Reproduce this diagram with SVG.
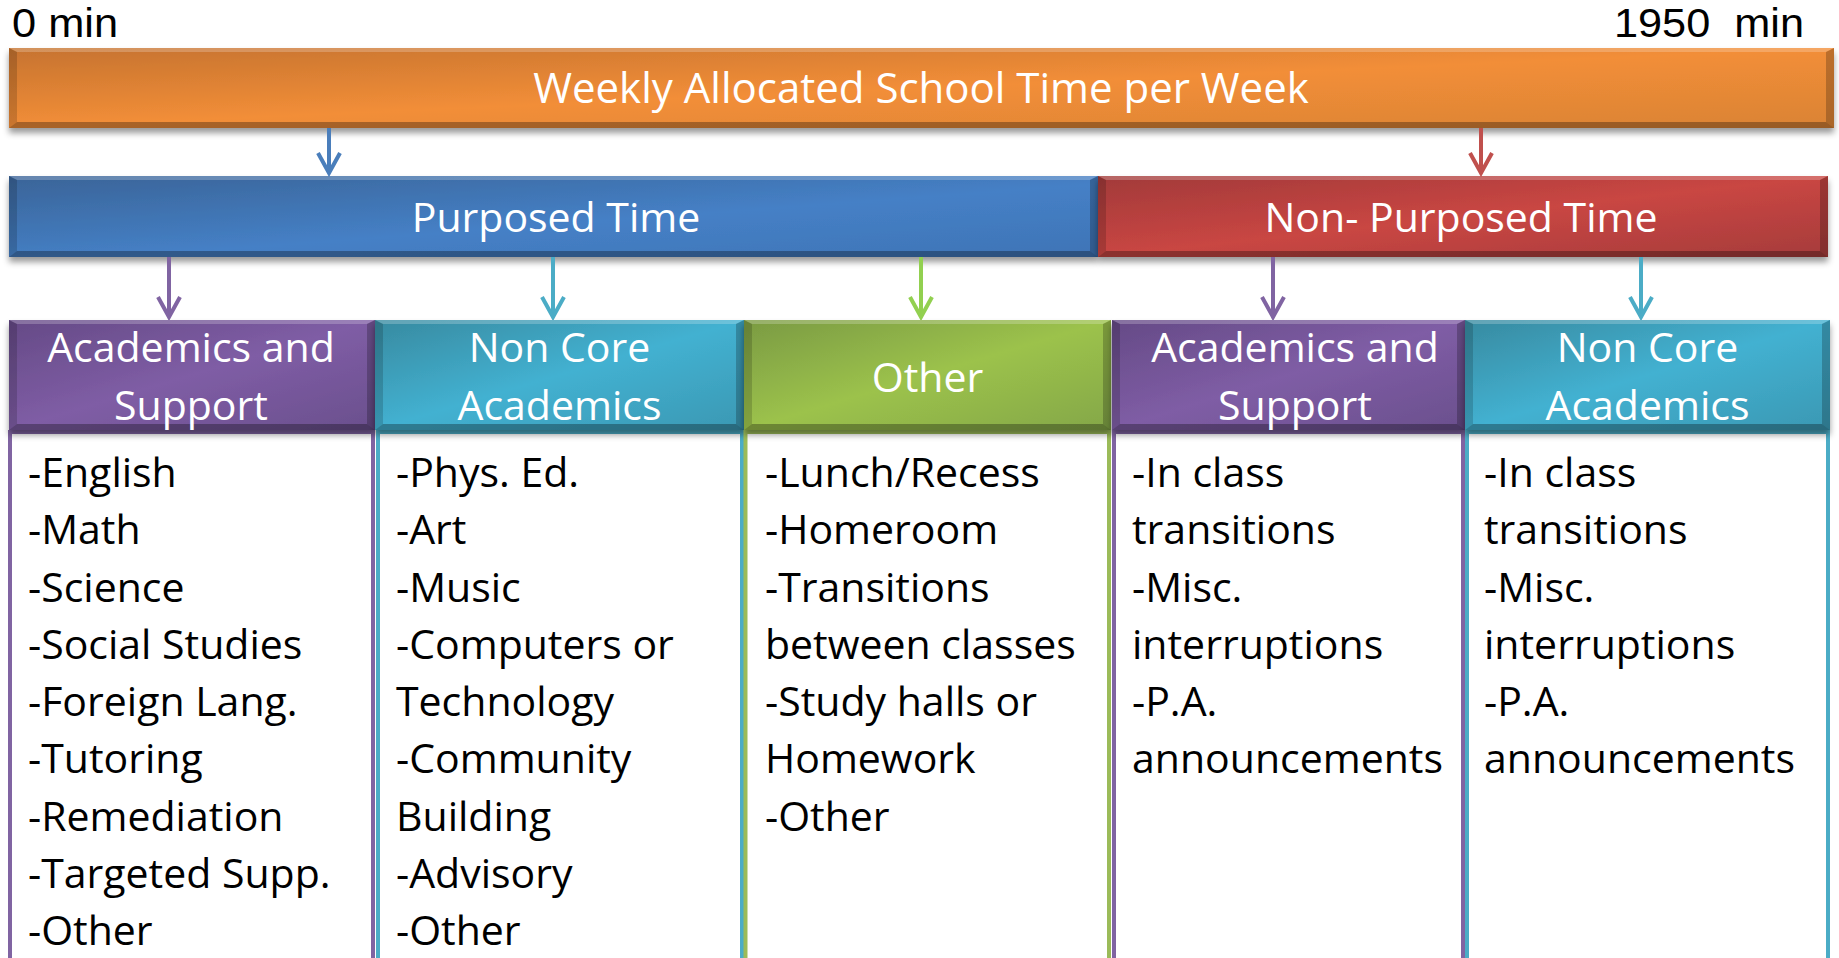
<svg xmlns="http://www.w3.org/2000/svg" width="1839" height="958" viewBox="0 0 1839 958">
<defs>
<style>
text{font-family:"Open Sans","Noto Sans","Liberation Sans",sans-serif;font-size:41px;}
.lbl{fill:#000;white-space:pre;font-family:"Liberation Sans",Arial,sans-serif;font-size:40px;}
.wt{fill:#fff;text-anchor:middle;}
.bd{fill:#000;}
.bt{fill:#fff;fill-opacity:.22;}
.bl{fill:#000;fill-opacity:.16;}
.br{fill:#000;fill-opacity:.22;}
.bb{fill:#000;fill-opacity:.3;}
.box{fill:#fff;stroke-width:4;}
.arr{fill:none;stroke-width:4;}
</style>
<linearGradient id="gO" x1="0" y1="0" x2="1" y2="1"><stop offset="0" stop-color="#C6732F"/><stop offset="0.5" stop-color="#F28E38"/><stop offset="1" stop-color="#DA8334"/></linearGradient>
<linearGradient id="gB" x1="0" y1="0" x2="1" y2="1"><stop offset="0" stop-color="#3A6498"/><stop offset="0.55" stop-color="#4580C6"/><stop offset="1" stop-color="#3F74B6"/></linearGradient>
<linearGradient id="gR" x1="0" y1="0" x2="1" y2="1"><stop offset="0" stop-color="#A23A39"/><stop offset="0.5" stop-color="#C94643"/><stop offset="1" stop-color="#A63C3B"/></linearGradient>
<linearGradient id="gP" x1="0" y1="0" x2="1" y2="1"><stop offset="0" stop-color="#654A86"/><stop offset="0.5" stop-color="#7F5DA5"/><stop offset="1" stop-color="#6A4F8D"/></linearGradient>
<linearGradient id="gT" x1="0" y1="0" x2="1" y2="1"><stop offset="0" stop-color="#378AA0"/><stop offset="0.5" stop-color="#43B1D1"/><stop offset="1" stop-color="#3A98B3"/></linearGradient>
<linearGradient id="gG" x1="0" y1="0" x2="1" y2="1"><stop offset="0" stop-color="#7A9A42"/><stop offset="0.5" stop-color="#9CC24C"/><stop offset="1" stop-color="#84A747"/></linearGradient>
<filter id="sh" x="-5%" y="-20%" width="110%" height="150%"><feDropShadow dx="0" dy="5" stdDeviation="3" flood-color="#000" flood-opacity="0.4"/></filter>
<marker id="mB" markerUnits="userSpaceOnUse" viewBox="-26 -15 30 30" refX="0" refY="0" markerWidth="30" markerHeight="30" orient="auto"><path d="M-20,-11 L0,0 L-20,11" fill="none" stroke="#4A7EBB" stroke-width="4"/></marker>
<marker id="mR" markerUnits="userSpaceOnUse" viewBox="-26 -15 30 30" refX="0" refY="0" markerWidth="30" markerHeight="30" orient="auto"><path d="M-20,-11 L0,0 L-20,11" fill="none" stroke="#C0504D" stroke-width="4"/></marker>
<marker id="mP" markerUnits="userSpaceOnUse" viewBox="-26 -15 30 30" refX="0" refY="0" markerWidth="30" markerHeight="30" orient="auto"><path d="M-20,-11 L0,0 L-20,11" fill="none" stroke="#8064A2" stroke-width="4"/></marker>
<marker id="mT" markerUnits="userSpaceOnUse" viewBox="-26 -15 30 30" refX="0" refY="0" markerWidth="30" markerHeight="30" orient="auto"><path d="M-20,-11 L0,0 L-20,11" fill="none" stroke="#4BACC6" stroke-width="4"/></marker>
<marker id="mG" markerUnits="userSpaceOnUse" viewBox="-26 -15 30 30" refX="0" refY="0" markerWidth="30" markerHeight="30" orient="auto"><path d="M-20,-11 L0,0 L-20,11" fill="none" stroke="#92D050" stroke-width="4"/></marker>
</defs>
<rect width="1839" height="958" fill="#fff"/>

<g id="scale-labels">
<text class="lbl" x="12" y="37" textLength="106" lengthAdjust="spacingAndGlyphs">0 min</text>
<text class="lbl" x="1614" y="37" textLength="190" lengthAdjust="spacingAndGlyphs">1950  min</text>
</g>

<g id="weekly">
<rect x="9" y="48" width="1825" height="80" fill="url(#gO)" filter="url(#sh)"/>
<polygon class="bt" points="9,48 1834,48 1826,52 17,52"/>
<polygon class="bl" points="9,48 17,52 17,122 9,128"/>
<polygon class="br" points="1834,48 1834,128 1826,122 1826,52"/>
<polygon class="bb" points="9,128 17,122 1826,122 1834,128"/>
<text class="wt" x="921" y="103" style="font-size:42px">Weekly Allocated School Time per Week</text>
</g>

<g id="purposed">
<rect x="9" y="176" width="1089" height="81" fill="url(#gB)" filter="url(#sh)"/>
<polygon class="bt" points="9,176 1098,176 1090,180 17,180"/>
<polygon class="bl" points="9,176 17,180 17,251 9,257"/>
<polygon class="br" points="1098,176 1098,257 1090,251 1090,180"/>
<polygon class="bb" points="9,257 17,251 1090,251 1098,257"/>
<text class="wt" x="556" y="232">Purposed Time</text>
</g>

<g id="non-purposed">
<rect x="1098" y="176" width="730" height="81" fill="url(#gR)" filter="url(#sh)"/>
<polygon class="bt" points="1098,176 1828,176 1820,180 1106,180"/>
<polygon class="bl" points="1098,176 1106,180 1106,251 1098,257"/>
<polygon class="br" points="1828,176 1828,257 1820,251 1820,180"/>
<polygon class="bb" points="1098,257 1106,251 1820,251 1828,257"/>
<text class="wt" x="1461" y="232">Non- Purposed Time</text>
</g>

<g id="connectors">
<line class="arr" x1="329" y1="128" x2="329" y2="173" stroke="#4A7EBB" marker-end="url(#mB)"/>
<line class="arr" x1="1481" y1="128" x2="1481" y2="173" stroke="#C0504D" marker-end="url(#mR)"/>
<line class="arr" x1="169" y1="257" x2="169" y2="317" stroke="#8064A2" marker-end="url(#mP)"/>
<line class="arr" x1="553" y1="257" x2="553" y2="317" stroke="#4BACC6" marker-end="url(#mT)"/>
<line class="arr" x1="921" y1="257" x2="921" y2="317" stroke="#92D050" marker-end="url(#mG)"/>
<line class="arr" x1="1273" y1="257" x2="1273" y2="317" stroke="#8064A2" marker-end="url(#mP)"/>
<line class="arr" x1="1641" y1="257" x2="1641" y2="317" stroke="#4BACC6" marker-end="url(#mT)"/>
</g>

<g id="col-academics-purposed">
<rect class="box" x="10" y="432" width="363" height="560" stroke="#8064A2"/>
<rect x="9" y="320" width="366" height="110" fill="url(#gP)" filter="url(#sh)"/>
<polygon class="bt" points="9,320 375,320 367,324 17,324"/>
<polygon class="bl" points="9,320 17,324 17,424 9,430"/>
<polygon class="br" points="375,320 375,430 367,424 367,324"/>
<polygon class="bb" points="9,430 17,424 367,424 375,430"/>
<text class="wt" x="191" y="362">Academics and</text>
<text class="wt" x="191" y="420">Support</text>
<text class="bd" x="28" y="487">-English</text>
<text class="bd" x="28" y="544">-Math</text>
<text class="bd" x="28" y="601.5">-Science</text>
<text class="bd" x="28" y="659">-Social Studies</text>
<text class="bd" x="28" y="716">-Foreign Lang.</text>
<text class="bd" x="28" y="773">-Tutoring</text>
<text class="bd" x="28" y="830.5">-Remediation</text>
<text class="bd" x="28" y="888">-Targeted Supp.</text>
<text class="bd" x="28" y="945">-Other</text>
</g>

<g id="col-noncore-purposed">
<rect class="box" x="378" y="432" width="364" height="560" stroke="#4BACC6"/>
<rect x="375" y="320" width="369" height="110" fill="url(#gT)" filter="url(#sh)"/>
<polygon class="bt" points="375,320 744,320 736,324 383,324"/>
<polygon class="bl" points="375,320 383,324 383,424 375,430"/>
<polygon class="br" points="744,320 744,430 736,424 736,324"/>
<polygon class="bb" points="375,430 383,424 736,424 744,430"/>
<text class="wt" x="559.5" y="362">Non Core</text>
<text class="wt" x="559.5" y="420">Academics</text>
<text class="bd" x="396" y="487">-Phys. Ed.</text>
<text class="bd" x="396" y="544">-Art</text>
<text class="bd" x="396" y="601.5">-Music</text>
<text class="bd" x="396" y="659">-Computers or</text>
<text class="bd" x="396" y="716">Technology</text>
<text class="bd" x="396" y="773">-Community</text>
<text class="bd" x="396" y="830.5">Building</text>
<text class="bd" x="396" y="888">-Advisory</text>
<text class="bd" x="396" y="945">-Other</text>
</g>

<g id="col-other">
<rect class="box" x="745.5" y="432" width="363.5" height="560" stroke="#9BBB59"/>
<rect x="744" y="320" width="367" height="110" fill="url(#gG)" filter="url(#sh)"/>
<polygon class="bt" points="744,320 1111,320 1103,324 752,324"/>
<polygon class="bl" points="744,320 752,324 752,424 744,430"/>
<polygon class="br" points="1111,320 1111,430 1103,424 1103,324"/>
<polygon class="bb" points="744,430 752,424 1103,424 1111,430"/>
<text class="wt" x="927.5" y="392">Other</text>
<text class="bd" x="765" y="487">-Lunch/Recess</text>
<text class="bd" x="765" y="544">-Homeroom</text>
<text class="bd" x="765" y="601.5">-Transitions</text>
<text class="bd" x="765" y="659">between classes</text>
<text class="bd" x="765" y="716">-Study halls or</text>
<text class="bd" x="765" y="773">Homework</text>
<text class="bd" x="765" y="830.5">-Other</text>
</g>

<g id="col-academics-nonpurposed">
<rect class="box" x="1114" y="432" width="349" height="560" stroke="#8064A2"/>
<rect x="1112" y="320" width="353" height="110" fill="url(#gP)" filter="url(#sh)"/>
<polygon class="bt" points="1112,320 1465,320 1457,324 1120,324"/>
<polygon class="bl" points="1112,320 1120,324 1120,424 1112,430"/>
<polygon class="br" points="1465,320 1465,430 1457,424 1457,324"/>
<polygon class="bb" points="1112,430 1120,424 1457,424 1465,430"/>
<text class="wt" x="1295" y="362">Academics and</text>
<text class="wt" x="1295" y="420">Support</text>
<text class="bd" x="1132" y="487">-In class</text>
<text class="bd" x="1132" y="544">transitions</text>
<text class="bd" x="1132" y="601.5">-Misc.</text>
<text class="bd" x="1132" y="659">interruptions</text>
<text class="bd" x="1132" y="716">-P.A.</text>
<text class="bd" x="1132" y="773">announcements</text>
</g>

<g id="col-noncore-nonpurposed">
<rect class="box" x="1467" y="432" width="361" height="560" stroke="#4BACC6"/>
<rect x="1465" y="320" width="365" height="110" fill="url(#gT)" filter="url(#sh)"/>
<polygon class="bt" points="1465,320 1830,320 1822,324 1473,324"/>
<polygon class="bl" points="1465,320 1473,324 1473,424 1465,430"/>
<polygon class="br" points="1830,320 1830,430 1822,424 1822,324"/>
<polygon class="bb" points="1465,430 1473,424 1822,424 1830,430"/>
<text class="wt" x="1647.5" y="362">Non Core</text>
<text class="wt" x="1647.5" y="420">Academics</text>
<text class="bd" x="1484" y="487">-In class</text>
<text class="bd" x="1484" y="544">transitions</text>
<text class="bd" x="1484" y="601.5">-Misc.</text>
<text class="bd" x="1484" y="659">interruptions</text>
<text class="bd" x="1484" y="716">-P.A.</text>
<text class="bd" x="1484" y="773">announcements</text>
</g>
</svg>
